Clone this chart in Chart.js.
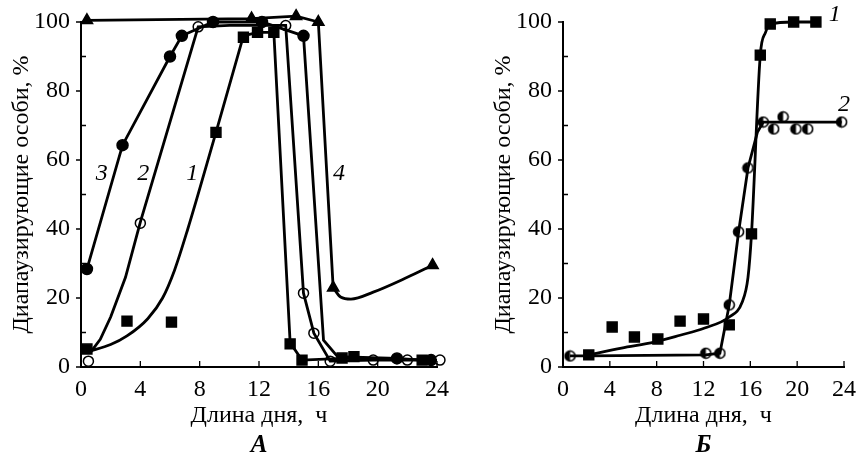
<!DOCTYPE html>
<html>
<head>
<meta charset="utf-8">
<script src="https://cdn.jsdelivr.net/npm/chart.js@4.4.0/dist/chart.umd.min.js"></script>
<style>
    body { margin: 0; background: #fff; }
    #wrap { position: relative; width: 856px; height: 460px; overflow: hidden; }
    #chartA { position: absolute; left: 0; top: 0; }
    #chartB { position: absolute; left: 430px; top: 0; }
</style>
</head>
<body>
<div id="wrap">
    <canvas id="chartA" width="450" height="460"></canvas>
    <canvas id="chartB" width="426" height="460"></canvas>
</div>
<script>
// Tick labels
const dayTicks = [0, 4, 8, 12, 16, 20, 24];
const pctTicks = [0, 20, 40, 60, 80, 100];
const pctMinor = [10, 30, 50, 70, 90];

// Panel A, series 1 (filled squares): smooth rise, then straight segments
const a1RiseX = [0.5, 2, 3.1, 4.5, 5.5, 6.3, 7.2, 9.1];
const a1RiseY = [4.5, 6.5, 9, 14, 20, 28, 40, 68];
const a1TopX = [9.1, 10.95, 11.9, 13, 14.1, 14.9, 17.6, 18.4, 24];
const a1TopY = [68, 96, 97, 97, 7, 2, 2.5, 2.5, 2];
const a1PtsX = [0.4, 3.1, 6.1, 9.1, 10.95, 11.9, 13, 14.1, 14.9, 17.6, 18.4, 23];
const a1PtsY = [5.2, 13.3, 13, 68, 95.6, 97, 97, 6.7, 2, 2.6, 3, 2];

// Panel A, series 2 (open circles)
const a2CurveX = [0.6, 1.3, 2, 3, 4, 7.9, 10, 13.8, 15, 15.7, 16.8, 19.7, 22, 24];
const a2CurveY = [4, 8, 14.5, 26, 42, 98.6, 99, 99, 21.4, 9.8, 1.7, 2, 2, 2];
const a2PtsX = [0.5, 4, 7.9, 13.8, 15, 15.7, 16.8, 19.7, 22, 24.2];
const a2PtsY = [1.7, 41.7, 98.6, 99, 21.4, 9.8, 1.7, 2, 2, 2];

// Panel A, series 3 (filled circles)
const a3CurveX = [0.4, 2.8, 6, 6.8, 8.9, 12.2, 15, 16.35, 17.3, 21.3, 23, 24];
const a3CurveY = [28.4, 64.3, 90, 96, 100, 100, 96, 7.8, 3, 2.5, 2, 2];
const a3PtsX = [0.4, 2.8, 6, 6.8, 8.9, 12.2, 15, 21.3, 23.6];
const a3PtsY = [28.4, 64.3, 90, 96, 100, 100, 96, 2.5, 2];

// Panel A, series 4 (filled triangles): straight top and drop, smooth tail
const a4TopX = [0.4, 11.5, 14.5, 16, 17];
const a4TopY = [100.5, 101, 101.7, 100, 23];
const a4TailX = [17, 17.5, 18.2, 19.7, 22, 23.7];
const a4TailY = [23, 20.3, 19.7, 21.7, 26, 29.5];
const a4PtsX = [0.4, 11.5, 14.5, 16, 17, 23.7];
const a4PtsY = [100.5, 101, 101.7, 100, 23, 29.5];

// Panel Б, series 1 (filled squares)
const b1CurveX = [2.2, 5, 7.8, 10, 12.1, 14.2, 15.3, 15.8, 16.1, 16.85, 17.3, 17.7, 19.7, 21.6];
const b1CurveY = [3.5, 5.5, 7.2, 9.2, 11.3, 14.5, 18.8, 26, 38.6, 90.4, 97, 99.4, 100, 100];
const b1PtsX = [2.2, 4.2, 6.1, 8.1, 10, 12, 14.2, 16.1, 16.85, 17.7, 19.7, 21.6];
const b1PtsY = [3.5, 11.6, 8.7, 8.1, 13.3, 13.9, 12.2, 38.6, 90.4, 99.4, 100, 100];

// Panel Б, series 2 (half-filled circles)
const b2CurveX = [0.6, 2.2, 12.2, 13.4, 14.2, 15, 15.8, 16.6, 17.1, 23.8];
const b2CurveY = [3.2, 3.2, 3.5, 4, 18, 39.2, 57.7, 68, 71, 71];
const b2PtsX = [0.6, 12.2, 13.4, 14.2, 15, 15.8, 17.1, 18, 18.8, 19.9, 20.9, 23.8];
const b2PtsY = [3.2, 4, 4, 18, 39.2, 57.7, 71, 69, 72.5, 69, 69, 71];

const SERIF = "'Liberation Serif', 'DejaVu Serif', serif";

function pairs(xs, ys) {
    return xs.map((x, i) => ({ x, y: ys[i] }));
}

// circle with one half filled
function halfCircle() {
    const c = document.createElement("canvas");
    c.width = 13; c.height = 13;
    const g = c.getContext("2d");
    g.fillStyle = "#fff";
    g.beginPath(); g.arc(6.5, 6.5, 5, 0, Math.PI * 2); g.fill();
    g.fillStyle = "#000";
    g.beginPath(); g.arc(6.5, 6.5, 5, Math.PI / 2, Math.PI * 1.5); g.fill();
    g.lineWidth = 1.6; g.strokeStyle = "#000";
    g.beginPath(); g.arc(6.5, 6.5, 5, 0, Math.PI * 2); g.stroke();
    return c;
}

function curve(xs, ys, smooth) {
    return {
        data: pairs(xs, ys),
        showLine: true,
        borderColor: "#000",
        borderWidth: 2.8,
        pointRadius: 0,
        tension: smooth ? 0.4 : 0,
        cubicInterpolationMode: smooth ? "monotone" : "default",
        clip: false
    };
}

function marks(xs, ys, style, radius, fill) {
    return {
        data: pairs(xs, ys),
        showLine: false,
        pointStyle: style,
        pointRadius: radius,
        pointBackgroundColor: fill,
        pointBorderColor: "#000",
        pointBorderWidth: 1.5,
        clip: false
    };
}

// inward/outward tick marks, curve numbers and panel letter
const decor = {
    id: "decor",
    afterDraw(chart, args, opts) {
        const { ctx, scales: { x, y } } = chart;
        ctx.save();
        ctx.strokeStyle = "#000";
        ctx.lineWidth = 1.3;
        ctx.beginPath();
        dayTicks.forEach(v => {
            const px = x.getPixelForValue(v);
            ctx.moveTo(px, y.bottom);
            ctx.lineTo(px, y.bottom - 6);
        });
        pctTicks.forEach(v => {
            const py = y.getPixelForValue(v);
            ctx.moveTo(x.left, py);
            ctx.lineTo(x.left - 5, py);
        });
        pctMinor.forEach(v => {
            const py = y.getPixelForValue(v);
            ctx.moveTo(x.left, py);
            ctx.lineTo(x.left + 5, py);
        });
        ctx.stroke();

        ctx.fillStyle = "#000";
        ctx.textAlign = "center";
        ctx.textBaseline = "middle";
        ctx.font = "italic 24px " + SERIF;
        opts.labels.forEach(l => {
            ctx.fillText(l.text, x.getPixelForValue(l.x), y.getPixelForValue(l.y));
        });
        ctx.font = "italic bold 25px " + SERIF;
        ctx.fillText(opts.panel, (x.left + x.right) / 2, 446);
        ctx.restore();
    }
};

function makeChart(id, datasets, padLeft, padRight, yWidth, decorOpts) {
    const tickFont = { family: SERIF, size: 24 };
    return new Chart(document.getElementById(id), {
        type: "scatter",
        data: { datasets },
        plugins: [decor],
        options: {
            responsive: false,
            animation: false,
            layout: { padding: { left: padLeft, right: padRight, top: 22, bottom: 30 } },
            plugins: {
                legend: { display: false },
                tooltip: { enabled: false },
                decor: decorOpts
            },
            scales: {
                x: {
                    type: "linear",
                    min: 0, max: 24,
                    afterBuildTicks: s => { s.ticks = dayTicks.map(v => ({ value: v })); },
                    afterFit: s => { s.height = 63; },
                    grid: { display: false },
                    border: { display: true, color: "#000", width: 2 },
                    ticks: { color: "#000", font: tickFont, padding: 0, maxRotation: 0 },
                    title: {
                        display: true, text: "Длина дня,  ч", color: "#000",
                        font: { family: SERIF, size: 24 }, padding: { top: 0, bottom: 0 }
                    }
                },
                y: {
                    type: "linear",
                    min: 0, max: 100,
                    afterBuildTicks: s => { s.ticks = pctTicks.map(v => ({ value: v })); },
                    afterFit: s => { s.width = yWidth; },
                    grid: { display: false },
                    border: { display: true, color: "#000", width: 2 },
                    ticks: { color: "#000", font: tickFont, padding: 3 },
                    title: {
                        display: true, text: "Диапаузирующие особи, %", color: "#000",
                        font: { family: SERIF, size: 24 }, padding: { top: 0, bottom: 0 }
                    }
                }
            }
        }
    });
}

const half = halfCircle();

makeChart("chartA", [
    curve(a1RiseX, a1RiseY, true),
    curve(a1TopX, a1TopY, false),
    curve(a2CurveX, a2CurveY, false),
    curve(a3CurveX, a3CurveY, false),
    curve(a4TopX, a4TopY, false),
    curve(a4TailX, a4TailY, true),
    marks(a1PtsX, a1PtsY, "rect", 7, "#000"),
    marks(a2PtsX, a2PtsY, "circle", 5, "#fff"),
    marks(a3PtsX, a3PtsY, "circle", 5.5, "#000"),
    marks(a4PtsX, a4PtsY, "triangle", 6.5, "#000")
], 7, 13, 74, {
    panel: "А",
    labels: [
        { text: "3", x: 1.4, y: 56 },
        { text: "2", x: 4.2, y: 56 },
        { text: "1", x: 7.5, y: 56 },
        { text: "4", x: 17.4, y: 56 }
    ]
});

makeChart("chartB", [
    curve(b1CurveX, b1CurveY, true),
    curve(b2CurveX, b2CurveY, false),
    marks(b1PtsX, b1PtsY, "rect", 7, "#000"),
    marks(b2PtsX, b2PtsY, half, 6, "#fff")
], 59, 11, 74, {
    panel: "Б",
    labels: [
        { text: "1", x: 23.2, y: 102 },
        { text: "2", x: 24, y: 76 }
    ]
});
</script>
</body>
</html>
